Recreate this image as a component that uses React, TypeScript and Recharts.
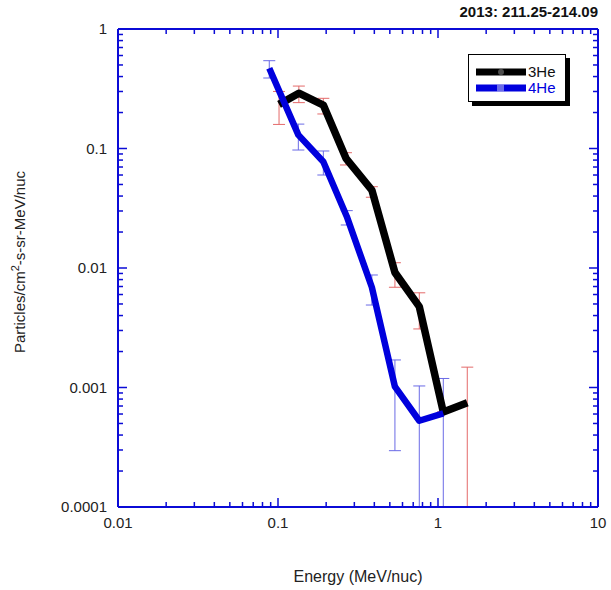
import React from 'react';
import { LineChart, Line, XAxis, YAxis, ErrorBar } from 'recharts';

// energy in MeV/nuc, flux in particles/cm2-s-sr-MeV/nuc
const energy3He = [0.1015, 0.135, 0.192, 0.266, 0.386, 0.538, 0.764, 1.079, 1.524];
const flux3He = [0.234, 0.29, 0.231, 0.0828, 0.0449, 0.00917, 0.00475, 0.000624, 0.000746];
const low3He = [0.159, 0.242, 0.1945, 0.0728, 0.0391, 0.0069, 0.00309, 0.000624, 0.0001];
const high3He = [0.3, 0.333, 0.263, 0.0922, 0.0479, 0.01107, 0.0062, 0.000624, 0.00148];

const energy4He = [0.0882, 0.134, 0.192, 0.269, 0.386, 0.538, 0.764, 1.079];
const flux4He = [0.469, 0.13, 0.0776, 0.027, 0.0069, 0.001016, 0.000527, 0.000608];
const low4He = [0.389, 0.0971, 0.06, 0.0229, 0.0049, 0.000296, 0.0001, 0.0001];
const high4He = [0.543, 0.16, 0.0953, 0.0302, 0.00874, 0.0017, 0.00103, 0.00119];

const xDecades = [0.01, 0.1, 1, 10];
const yDecades = [0.0001, 0.001, 0.01, 0.1, 1];
const xLabels = ['0.01', '0.1', '1', '10'];
const yLabels = ['0.0001', '0.001', '0.01', '0.1', '1'];

const seriesNames = ['3He', '4He'];
const title = '2013: 211.25-214.09';

const AXIS = '#0b0bd6';
const FONT = '"Liberation Sans", Arial, sans-serif';

const withMinors = (decades: number[]) => {
  const out: number[] = [];
  decades.forEach((d, i) => {
    out.push(d);
    if (i < decades.length - 1) {
      for (let m = 2; m <= 9; m++) out.push(+(d * m).toPrecision(3));
    }
  });
  return out;
};
const xTicks = withMinors(xDecades);
const yTicks = withMinors(yDecades);

const isMajor = (v: number) => {
  const l = Math.log10(v);
  return Math.abs(l - Math.round(l)) < 1e-6;
};

const build = (e: number[], f: number[], lo: number[], hi: number[]) =>
  e.map((x, i) => ({ e: x, v: f[i], err: [f[i] - lo[i], hi[i] - f[i]] }));

const data3He = build(energy3He, flux3He, low3He, high3He);
const data4He = build(energy4He, flux4He, low4He, high4He);

const labelFor = (v: number, decades: number[], labels: string[]) => {
  const i = decades.findIndex((d) => Math.abs(d - v) / d < 1e-6);
  return i >= 0 ? labels[i] : '';
};

const BottomTick = (props: any) => {
  const { x, y, payload } = props;
  const major = isMajor(payload.value);
  return (
    <g>
      <line x1={x} x2={x} y1={y} y2={y - (major ? 9 : 5)} stroke={AXIS} strokeWidth={1.5} />
      {major && (
        <text x={x} y={y + 21} textAnchor="middle" fontSize={15} fill="#222" fontFamily={FONT}>
          {labelFor(payload.value, xDecades, xLabels)}
        </text>
      )}
    </g>
  );
};

const TopTick = (props: any) => {
  const { x, y, payload } = props;
  const major = isMajor(payload.value);
  return <line x1={x} x2={x} y1={y} y2={y + (major ? 9 : 5)} stroke={AXIS} strokeWidth={1.5} />;
};

const LeftTick = (props: any) => {
  const { x, y, payload } = props;
  const major = isMajor(payload.value);
  return (
    <g>
      <line x1={x} x2={x + (major ? 9 : 5)} y1={y} y2={y} stroke={AXIS} strokeWidth={1.5} />
      {major && (
        <text x={x - 11} y={y + 5} textAnchor="end" fontSize={15} fill="#222" fontFamily={FONT}>
          {labelFor(payload.value, yDecades, yLabels)}
        </text>
      )}
    </g>
  );
};

const RightTick = (props: any) => {
  const { x, y, payload } = props;
  const major = isMajor(payload.value);
  return <line x1={x} x2={x - (major ? 9 : 5)} y1={y} y2={y} stroke={AXIS} strokeWidth={1.5} />;
};

export default function App() {
  return (
    <div style={{ position: 'absolute', left: 0, top: 0, width: 611, height: 590, background: '#fff', fontFamily: FONT }}>
      <LineChart width={611} height={590} margin={{ top: 28, right: 12, left: 0, bottom: 0 }}>
        <XAxis
          xAxisId="b"
          dataKey="e"
          type="number"
          scale="log"
          domain={[0.01, 10]}
          allowDataOverflow
          ticks={xTicks}
          interval={0}
          height={83}
          tickSize={0}
          tickMargin={0}
          tickLine={false}
          axisLine={{ stroke: AXIS, strokeWidth: 2 }}
          tick={<BottomTick />}
        />
        <XAxis
          xAxisId="t"
          orientation="top"
          dataKey="e"
          type="number"
          scale="log"
          domain={[0.01, 10]}
          allowDataOverflow
          ticks={xTicks}
          interval={0}
          height={1}
          tickSize={0}
          tickMargin={0}
          tickLine={false}
          axisLine={{ stroke: AXIS, strokeWidth: 2 }}
          tick={<TopTick />}
        />
        <YAxis
          yAxisId="l"
          type="number"
          scale="log"
          domain={[0.0001, 1]}
          allowDataOverflow
          ticks={yTicks}
          interval={0}
          width={118}
          tickSize={0}
          tickMargin={0}
          tickLine={false}
          axisLine={{ stroke: AXIS, strokeWidth: 2 }}
          tick={<LeftTick />}
        />
        <YAxis
          yAxisId="r"
          orientation="right"
          type="number"
          scale="log"
          domain={[0.0001, 1]}
          allowDataOverflow
          ticks={yTicks}
          interval={0}
          width={1}
          tickSize={0}
          tickMargin={0}
          tickLine={false}
          axisLine={{ stroke: AXIS, strokeWidth: 2 }}
          tick={<RightTick />}
        />

        {/* error bars underneath the thick lines, on the mirrored axes (same scales) */}
        <Line xAxisId="t" yAxisId="r" data={data3He} dataKey="v" stroke="none" dot={false} activeDot={false} isAnimationActive={false}>
          <ErrorBar dataKey="err" direction="y" width={6} stroke="#e46a6a" strokeWidth={1} />
        </Line>
        <Line xAxisId="t" yAxisId="r" data={data4He} dataKey="v" stroke="none" dot={false} activeDot={false} isAnimationActive={false}>
          <ErrorBar dataKey="err" direction="y" width={6} stroke="#6a6ae6" strokeWidth={1} />
        </Line>

        <Line
          xAxisId="b"
          yAxisId="l"
          data={data3He}
          dataKey="v"
          name={seriesNames[0]}
          type="linear"
          stroke="#000"
          strokeWidth={7.5}
          strokeLinejoin="round"
          dot={false}
          activeDot={false}
          isAnimationActive={false}
        />
        <Line
          xAxisId="b"
          yAxisId="l"
          data={data4He}
          dataKey="v"
          name={seriesNames[1]}
          type="linear"
          stroke="#0000dd"
          strokeWidth={6.5}
          strokeLinejoin="round"
          dot={false}
          activeDot={false}
          isAnimationActive={false}
        />
      </LineChart>

      <div style={{ position: 'absolute', right: 13, top: 3, fontSize: 15, fontWeight: 'bold', color: '#111' }}>{title}</div>

      <div style={{ position: 'absolute', left: 10, top: 262, width: 0, height: 0 }}>
        <div
          style={{
            position: 'absolute',
            left: 0,
            top: 0,
            transform: 'translate(-50%, -50%) rotate(-90deg)',
            whiteSpace: 'nowrap',
            fontSize: 15,
            color: '#222',
            marginLeft: 8,
          }}
        >
          Particles/cm<sup style={{ fontSize: 11 }}>2</sup>-s-sr-MeV/nuc
        </div>
      </div>

      <div style={{ position: 'absolute', left: 0, width: 611, top: 568, textAlign: 'center', paddingLeft: 105, boxSizing: 'border-box', fontSize: 16, color: '#222' }}>
        Energy (MeV/nuc)
      </div>

      <div
        style={{
          position: 'absolute',
          left: 468,
          top: 54,
          width: 96,
          height: 46,
          border: '1.5px solid #000',
          boxShadow: '4px 4px 0 #000',
          background: '#fff',
        }}
      >
        <svg width={96} height={46} style={{ position: 'absolute', left: 0, top: 0 }}>
          <line x1={7} x2={57} y1={17} y2={17} stroke="#000" strokeWidth={7} />
          <circle cx={32} cy={17} r={3} fill="#9a9a9a" opacity={0.5} />
          <text x={59} y={22} fontSize={15} fill="#111" fontFamily={FONT}>{seriesNames[0]}</text>
          <line x1={7} x2={57} y1={33} y2={33} stroke="#0000dd" strokeWidth={7} />
          <rect x={28} y={29.5} width={7} height={7} fill="#b4b4f2" opacity={0.6} />
          <text x={59} y={38} fontSize={15} fill="#0000dd" fontFamily={FONT}>{seriesNames[1]}</text>
        </svg>
      </div>
    </div>
  );
}
